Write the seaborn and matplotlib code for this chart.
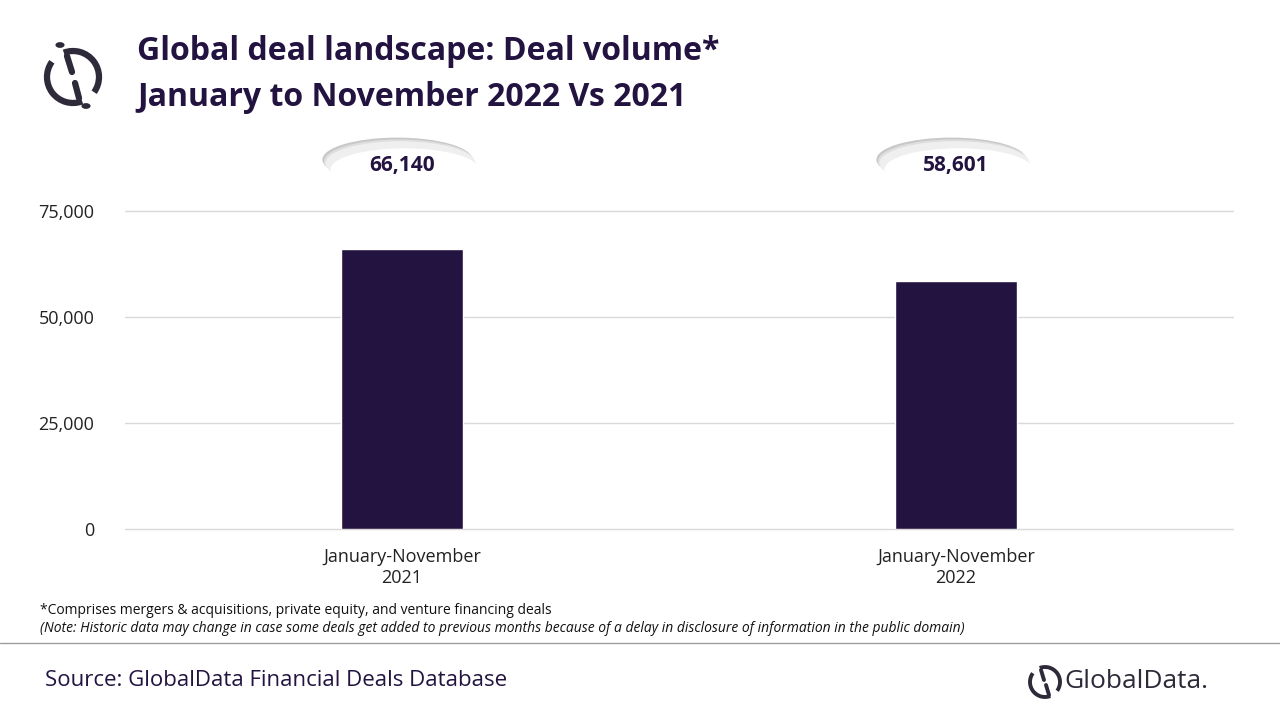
import matplotlib
matplotlib.use("Agg")
import matplotlib.pyplot as plt
from matplotlib.patches import Ellipse, Arc, Circle
from matplotlib.lines import Line2D
import seaborn as sns
import pandas as pd

periods = ["January-November\n2021", "January-November\n2022"]
volumes = [66140, 58601]
value_labels = ["66,140", "58,601"]
yticks = [0, 25000, 50000, 75000]

navy = "#231340"
logo_col = "#2e2a3a"
sns.set_theme(style="white")
plt.rcParams["font.family"] = ["Open Sans", "DejaVu Sans"]

fig = plt.figure(figsize=(12.8, 7.2), dpi=100)
ax = fig.add_axes([125 / 1280, 1 - 529 / 720, 1108 / 1280, 318 / 720])

df = pd.DataFrame({"period": periods, "volume": volumes})
sns.barplot(data=df, x="period", y="volume", color=navy, saturation=1, width=0.22, ax=ax, zorder=3)
ax.set_xlim(-0.5, 1.5)
ax.set_ylim(0, 75000)
ax.set_yticks(yticks)
ax.set_yticklabels([f"{v:,}" for v in yticks], fontsize=13, color="#222222")
ax.tick_params(axis="x", labelsize=13, colors="#222222", length=0, pad=14)
ax.tick_params(axis="y", length=0, pad=22)
ax.set_xlabel("")
ax.set_ylabel("")
for y in yticks:
    ax.axhline(y, color="#d9d9d9", lw=1, zorder=1, clip_on=False)
for s in ax.spines.values():
    s.set_visible(False)


def fig_arc(cx, cy, d, t1, t2, lw):
    fig.patches.append(Arc((cx / 1280, 1 - cy / 720), d / 1280, d / 720, theta1=t1, theta2=t2,
                           lw=lw, color=logo_col, transform=fig.transFigure))


def fig_line(x0, y0, x1, y1, lw):
    fig.lines.append(Line2D([x0 / 1280, x1 / 1280], [1 - y0 / 720, 1 - y1 / 720], lw=lw,
                            color=logo_col, transform=fig.transFigure, solid_capstyle="round"))


# value bubbles above the bars
for i, lab in enumerate(value_labels):
    xp = 125 + 1108 * (i + 0.5) / 2
    xf, yf = xp / 1280, 1 - 165 / 720
    for k, c in enumerate(["#c8c8c8", "#dedede", "#efefef"]):
        fig.patches.append(Ellipse((xf - 0.0012 * (3 - k), yf + 0.0025 * (3 - k)), 150 / 1280, 44 / 720,
                                   transform=fig.transFigure, facecolor=c, edgecolor="none"))
    fig.patches.append(Ellipse((xf + 0.002, yf - 0.006), 148 / 1280, 42 / 720,
                               transform=fig.transFigure, facecolor="white", edgecolor="none"))
    fig.text(xf, yf, lab, ha="center", va="center", fontsize=15, fontweight="bold", color=navy)

# title
fig.text(137 / 1280, 1 - 52 / 720, "Global deal landscape: Deal volume*", fontsize=23,
         fontweight="bold", color=navy, va="center")
fig.text(137 / 1280, 1 - 98 / 720, "January to November 2022 Vs 2021", fontsize=23,
         fontweight="bold", color=navy, va="center")

# logo mark
fig_arc(73, 77, 52, 128, 282, 4.5)
fig_arc(73, 77, 52, 308, 462, 4.5)
fig_line(67, 56, 72, 72, 4.5)
fig_line(75, 83, 79, 98, 4.5)
fig.patches.append(Circle((60 / 1280, 1 - 45 / 720), 0.003, color=logo_col, transform=fig.transFigure))
fig.patches.append(Circle((86 / 1280, 1 - 106 / 720), 0.003, color=logo_col, transform=fig.transFigure))

# footnotes
fig.text(40 / 1280, 1 - 611 / 720, "*Comprises mergers & acquisitions, private equity, and venture financing deals",
         fontsize=10, color="#111111", va="center")
fig.text(40 / 1280, 1 - 629 / 720,
         "(Note: Historic data may change in case some deals get added to previous months because of a delay in disclosure of information in the public domain)",
         fontsize=10, style="italic", color="#111111", va="center")
fig.lines.append(Line2D([0, 1], [1 - 643 / 720] * 2, color="#9e9e9e", lw=1, transform=fig.transFigure))
fig.text(45 / 1280, 1 - 680 / 720, "Source: GlobalData Financial Deals Database", fontsize=16,
         color=navy, va="center")

# GlobalData wordmark
fig_arc(1045, 682, 30, 128, 282, 2.8)
fig_arc(1045, 682, 30, 308, 462, 2.8)
fig_line(1041, 670, 1044, 680, 2.8)
fig_line(1046, 685, 1049, 695, 2.8)
fig.text(1064 / 1280, 1 - 682 / 720, "GlobalData.", fontsize=19, color=logo_col, va="center")

fig.savefig("out.png", dpi=100)
